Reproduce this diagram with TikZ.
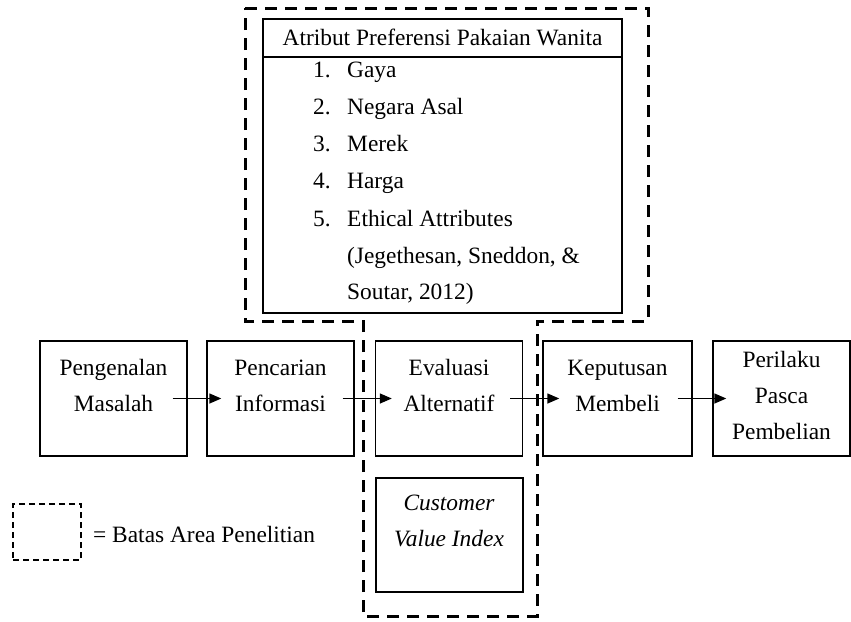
\documentclass[tikz,border=0pt]{standalone}
\usepackage{fontspec}
\setmainfont{Liberation Serif}
\usetikzlibrary{arrows.meta}
\begin{document}
\begin{tikzpicture}[x=1pt,y=-1pt,
 box/.style={draw, line width=1.4pt, minimum width=147pt, minimum height=115pt, inner sep=0pt},
 txt/.style={anchor=base, inner sep=0pt, font=\fontsize{23.4}{28}\selectfont},
 arr/.style={line width=1.4pt, -{Triangle[length=12pt,width=10pt]}},
 area/.style={line width=3pt, dash pattern=on 12pt off 8pt},
 legendbox/.style={draw, line width=1.3pt, dash pattern=on 6pt off 4pt, minimum width=68pt, minimum height=56pt, inner sep=0pt}]
\useasboundingbox (0,0) rectangle (851,621);

% research area boundary
\draw[area] (245,8) -- (648,8) -- (648,321) -- (537,321) -- (537,616)
  -- (363,616) -- (363,321) -- (245,321) -- cycle;

% attribute box
\node[box, minimum width=359pt, minimum height=294pt] (attr) at (442.5,166) {};
\coordinate (hl) at (0,57);
\draw[line width=1.4pt] (attr.west |- hl) -- (attr.east |- hl);
\node[txt] (hdr) at (442.5,45) {Atribut Preferensi Pakaian Wanita};
\node[txt, anchor=base west] (n1) at (313,77) {1.};
\node[txt, anchor=base west] (t1) at (347,77) {Gaya};
\node[txt, anchor=base west] (n2) at (313,114) {2.};
\node[txt, anchor=base west] (t2) at (347,114) {Negara Asal};
\node[txt, anchor=base west] (n3) at (313,151) {3.};
\node[txt, anchor=base west] (t3) at (347,151) {Merek};
\node[txt, anchor=base west] (n4) at (313,188) {4.};
\node[txt, anchor=base west] (t4) at (347,188) {Harga};
\node[txt, anchor=base west] (n5) at (313,226) {5.};
\node[txt, anchor=base west] (t5) at (347,226) {Ethical Attributes};
\node[txt, anchor=base west] (t6) at (347,263) {(Jegethesan, Sneddon, \&};
\node[txt, anchor=base west] (t7) at (347,299) {Soutar, 2012)};

% process boxes
\node[box] (b1) at (113.5,398.5) {};
\node[box] (b2) at (280.5,398.5) {};
\node[box] (b3) at (449,398.5) {};
\node[box, minimum width=149pt] (b4) at (617.5,398.5) {};
\node[box, minimum width=137pt] (b5) at (781.5,398.5) {};

\node[txt] (b1a) at (113.5,375) {Pengenalan};
\node[txt] (b1b) at (113.5,411) {Masalah};
\node[txt] (b2a) at (280.5,375) {Pencarian};
\node[txt] (b2b) at (280.5,411) {Informasi};
\node[txt] (b3a) at (449,375) {Evaluasi};
\node[txt] (b3b) at (449,411) {Alternatif};
\node[txt] (b4a) at (617.5,375) {Keputusan};
\node[txt] (b4b) at (617.5,411) {Membeli};
\node[txt] (b5a) at (781.5,367) {Perilaku};
\node[txt] (b5b) at (781.5,403) {Pasca};
\node[txt] (b5c) at (781.5,439) {Pembelian};

\draw[arr] ([xshift=-15pt]b1.east) -- ([xshift=15pt]b2.west);
\draw[arr] ([xshift=-12pt]b2.east) -- ([xshift=17pt]b3.west);
\draw[arr] ([xshift=-13pt]b3.east) -- ([xshift=17pt]b4.west);
\draw[arr] ([xshift=-15pt]b4.east) -- ([xshift=14pt]b5.west);

% customer value index
\node[box, minimum height=114pt] (cvi) at (449.5,535) {};
\node[txt, font=\fontsize{23.4}{28}\selectfont\itshape] (cvia) at (449,510) {Customer};
\node[txt, font=\fontsize{23.4}{28}\selectfont\itshape] (cvib) at (449,546) {Value Index};

% legend
\node[legendbox] (leg) at (47,532) {};
\node[txt, anchor=base west] (legt) at (93,542) {= Batas Area Penelitian};
\end{tikzpicture}
\end{document}
